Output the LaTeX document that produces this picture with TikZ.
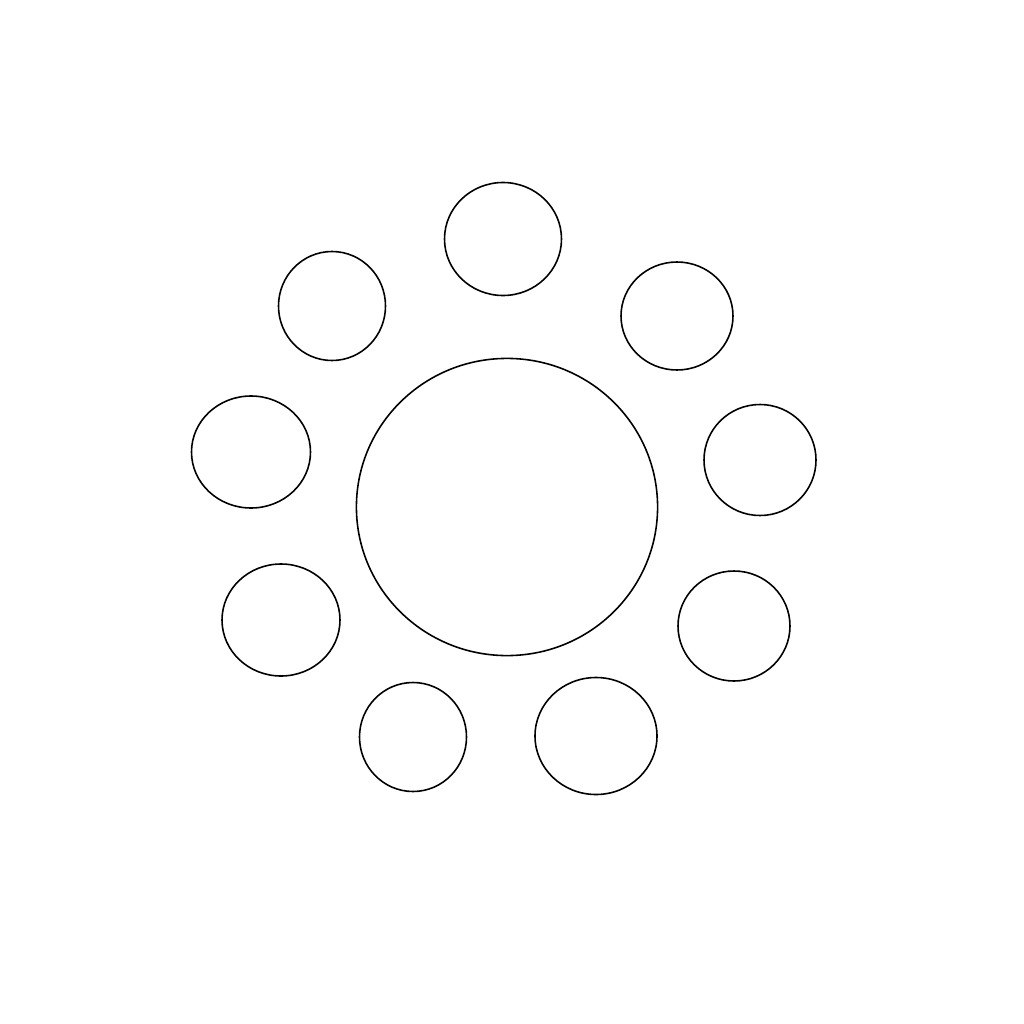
\documentclass[tikz,border=0pt]{standalone}
\usetikzlibrary{shapes.geometric}

\begin{document}
\begin{tikzpicture}[x=0.01cm, y=-0.01cm, line width=0.45pt,
    blob/.style={draw=black, ellipse, inner sep=0pt}]

   \useasboundingbox (0,0) rectangle (1024,1024);

   \node [blob, minimum width=3.01cm, minimum height=2.97cm] (table) at (507,507) {};

   \foreach \name/\px/\py/\w/\h in {top/503/239/117/113, ul/332/306/107/109, ur/677/316/112/108,
                                    left/251/452/119/112, right/760/460/112/111, ll/281/620/118/112,
                                    lr/734/626/112/110, bl/413/737/107/109, br/596/736/122/117}
   {
       \node [blob, minimum width=\w*0.01cm, minimum height=\h*0.01cm] (seat-\name) at (\px,\py) {};
   }
\end{tikzpicture}
\end{document}
